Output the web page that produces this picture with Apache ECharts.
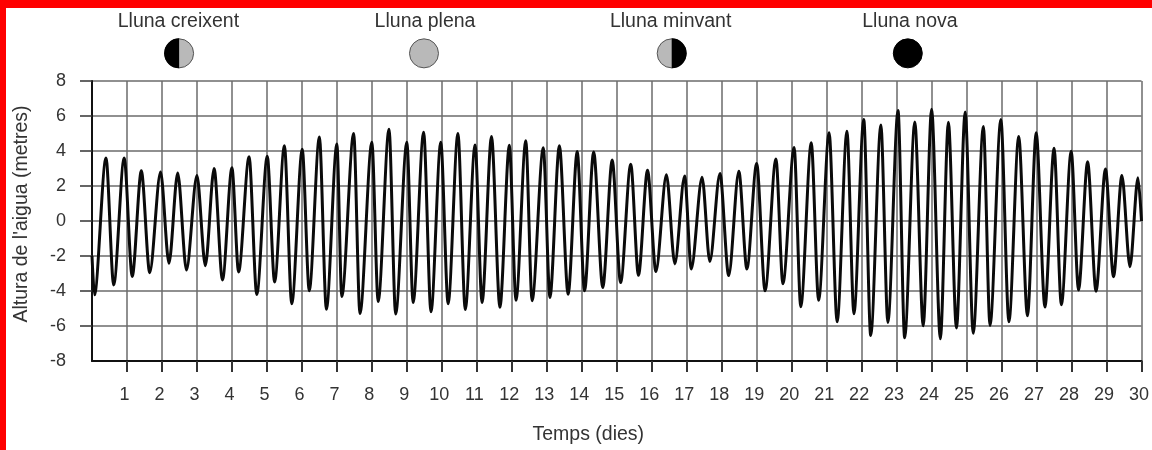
<!DOCTYPE html>
<html><head><meta charset="utf-8">
<style>html,body{margin:0;padding:0;background:#fff}#c{width:1152px;height:450px}</style>
<script src="https://cdn.jsdelivr.net/npm/echarts@6/dist/echarts.min.js"></script>
</head><body><div id="c"></div>
<script>
// Extrema of the tide curve (days, metres)
const tideDays = [0,0.07,0.4,0.62,0.92,1.15,1.41,1.65,1.96,2.2,2.45,2.7,3.0,3.24,3.49,3.73,4.0,4.19,4.49,4.71,5.01,5.22,5.5,5.71,6.01,6.21,6.5,6.7,7.0,7.14,7.48,7.66,8.0,8.18,8.49,8.68,9.0,9.18,9.48,9.69,9.97,10.18,10.46,10.67,10.95,11.15,11.42,11.66,11.93,12.12,12.4,12.58,12.9,13.09,13.36,13.61,13.87,14.08,14.34,14.6,14.87,15.11,15.4,15.62,15.88,16.12,16.42,16.66,16.94,17.13,17.44,17.66,17.95,18.2,18.49,18.72,19.0,19.24,19.55,19.75,20.07,20.26,20.56,20.77,21.07,21.3,21.58,21.78,22.06,22.26,22.55,22.75,23.04,23.23,23.52,23.76,24.0,24.25,24.48,24.71,24.96,25.19,25.48,25.67,25.98,26.21,26.49,26.74,26.99,27.24,27.5,27.71,27.99,28.2,28.46,28.7,28.97,29.2,29.44,29.67,29.9,30];
const tideHeights = [-2,-4.22,3.6,-3.65,3.6,-3.17,2.87,-2.95,2.8,-2.41,2.75,-2.8,2.6,-2.55,3.0,-3.37,3.04,-2.91,3.67,-4.2,3.7,-3.48,4.3,-4.73,4.1,-3.98,4.8,-5.04,4.4,-4.32,5.0,-5.29,4.5,-4.6,5.25,-5.32,4.5,-4.66,5.07,-5.19,4.5,-4.73,5.0,-5.06,4.35,-4.66,4.83,-4.93,4.33,-4.53,4.58,-4.55,4.18,-4.37,4.3,-4.18,3.97,-3.99,3.95,-3.8,3.48,-3.52,3.25,-3.1,2.9,-2.89,2.64,-2.45,2.57,-2.74,2.5,-2.32,2.72,-3.12,2.85,-2.74,3.29,-3.99,3.55,-3.58,4.2,-4.9,4.47,-4.53,5.04,-5.76,5.13,-5.3,5.8,-6.54,5.48,-5.8,6.31,-6.67,5.66,-5.99,6.39,-6.73,5.65,-6.12,6.23,-6.41,5.4,-5.97,5.8,-5.76,4.83,-5.42,5.04,-4.92,4.16,-4.79,3.99,-3.94,3.38,-4.01,2.97,-3.18,2.6,-2.61,2.47,0];
const dayTicks = [1,2,3,4,5,6,7,8,9,10,11,12,13,14,15,16,17,18,19,20,21,22,23,24,25,26,27,28,29,30];
const heightTicks = [-6,-4,-2,0,2,4,6,8];
const moonDays = [2.49,9.49,16.57,23.32];
const moonLabelDays = [2.47,9.52,16.54,23.38];
const moonNames = ['Lluna creixent','Lluna plena','Lluna minvant','Lluna nova'];
const moonKinds = ['first','full','last','new'];
const moonLevel = 9.58;
const labelLevel = 11.4;

const GREY='#b9b9b9', DARK='#000';
const chart = echarts.init(document.getElementById('c'),null,{renderer:'canvas'});
const tide = tideDays.map((d,i)=>[d,tideHeights[i]]);
const txt = '#333';
const FONT = '"Liberation Sans",Arial,sans-serif';
function renderMoon(params, api){
  const i = params.dataIndex, p = api.coord([moonDays[i], moonLevel]), t = api.coord([moonLabelDays[i], labelLevel]);
  const r = 14.5, k = moonKinds[i], kids = [];
  const base = k==='new'?DARK:GREY;
  kids.push({type:'circle',shape:{cx:p[0],cy:p[1],r:r},style:{fill:base,stroke:k==='new'?DARK:'#555',lineWidth:1}});
  if(k==='first'||k==='last'){
    const a = k==='first'?Math.PI/2:-Math.PI/2;
    kids.push({type:'sector',shape:{cx:p[0],cy:p[1],r:r+.5,r0:0,startAngle:a,endAngle:a+Math.PI},style:{fill:DARK}});
  }
  kids.push({type:'text',style:{x:t[0],y:t[1],text:moonNames[i],fill:txt,font:'19.5px '+FONT,align:'center',verticalAlign:'middle'}});
  return {type:'group',children:kids};
}
chart.setOption({
  animation:false,
  backgroundColor:'#fff',
  graphic:[
    {type:'rect',left:0,top:0,z:100,shape:{width:1152,height:8},style:{fill:'#ff0000'}},
    {type:'rect',left:0,top:0,z:100,shape:{width:6,height:450},style:{fill:'#ff0000'}}
  ],
  grid:{left:92,right:10.5,top:81,bottom:89,outerBoundsMode:'none'},
  xAxis:{type:'value',min:0,max:30,interval:1,name:'Temps (dies)',nameLocation:'middle',nameGap:64,
    nameTextStyle:{color:txt,fontSize:19.5,fontFamily:FONT,padding:[0,57,0,0]},
    axisLine:{onZero:false,lineStyle:{color:'#111',width:2}},
    axisTick:{show:true,length:11,customValues:dayTicks,lineStyle:{color:'#333',width:2}},
    axisLabel:{color:txt,fontSize:18,fontFamily:FONT,margin:25,padding:[0,5,0,0],customValues:dayTicks,formatter:v=>String(v)},
    splitLine:{show:true,lineStyle:{color:'#6b6b6b',width:1.5}}},
  yAxis:{type:'value',min:-8,max:8,interval:2,name:"Altura de l'aigua (metres)",nameLocation:'middle',nameGap:60,
    nameTextStyle:{color:txt,fontSize:19.5,fontFamily:FONT,padding:[0,0,0,14]},
    axisLine:{onZero:false,lineStyle:{color:'#111',width:2}},
    axisTick:{show:true,length:12,customValues:heightTicks,lineStyle:{color:'#333',width:1.5}},
    axisLabel:{color:txt,fontSize:18,fontFamily:FONT,margin:26,formatter:v=>String(v)},
    splitLine:{show:true,lineStyle:{color:'#6b6b6b',width:1.5}}},
  series:[
    {type:'line',data:tide,showSymbol:false,smooth:0.3,smoothMonotone:'x',clip:false,z:5,
      lineStyle:{color:'#0a0a0a',width:3,join:'round'}},
    {type:'custom',coordinateSystem:'cartesian2d',clip:false,data:moonDays.map(d=>[d,moonLevel]),renderItem:renderMoon,silent:true,z:6}
  ]
});
</script></body></html>
